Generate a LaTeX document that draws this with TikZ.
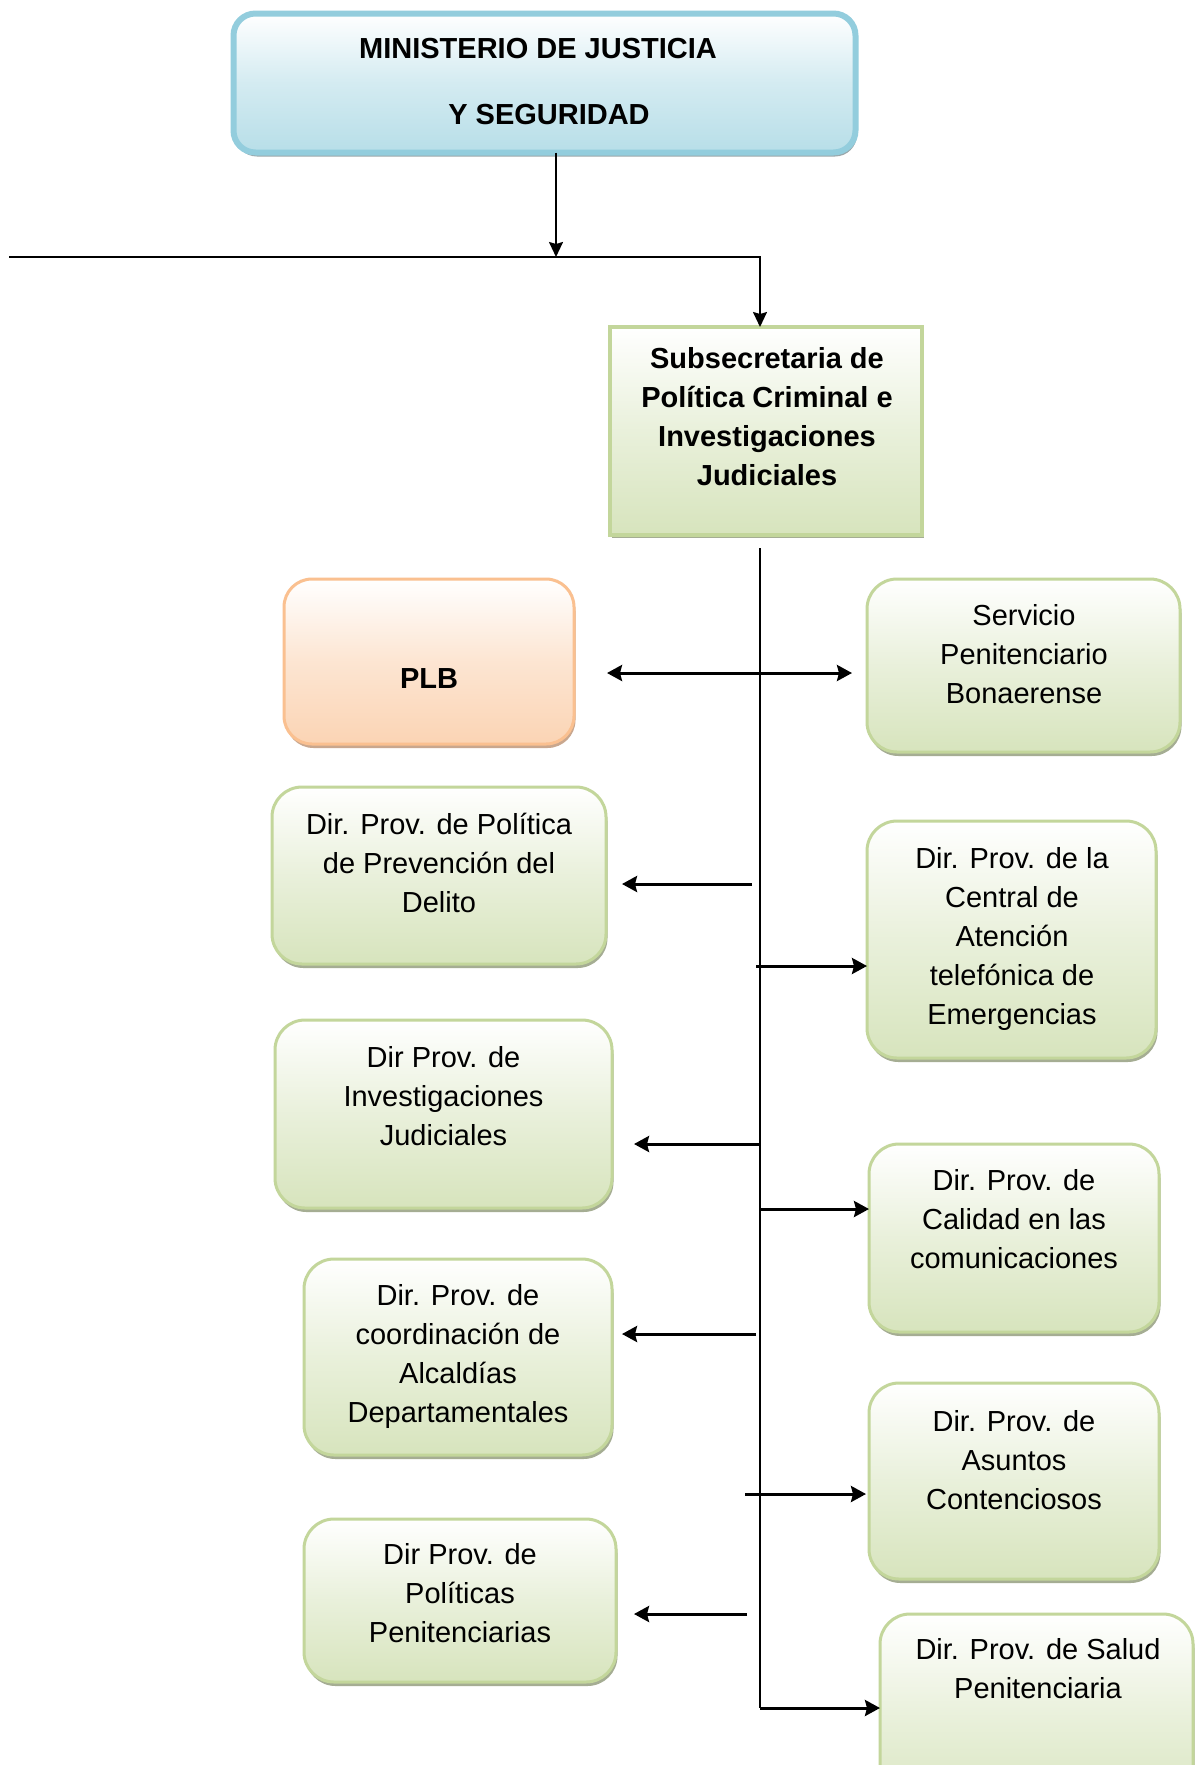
\documentclass[tikz,border=0pt]{standalone}
\usepackage{fontspec}
\setmainfont{Liberation Sans}
\usetikzlibrary{shadows,arrows.meta}
\definecolor{gborder}{HTML}{C3D69B}
\definecolor{gfill}{HTML}{D7E4BD}
\definecolor{gshadow}{HTML}{A5AD93}
\definecolor{bborder}{HTML}{93CDDD}
\definecolor{bfill}{HTML}{B7DEE8}
\definecolor{bshadow}{HTML}{9AA6A9}
\definecolor{oborder}{HTML}{FAC090}
\definecolor{ofill}{HTML}{FBD4B4}
\definecolor{oshadow}{HTML}{C9A78E}
\begin{document}
\begin{tikzpicture}[x=1pt,y=-1pt,
  box/.style={rectangle, inner sep=0pt, outer sep=0pt},
  gbox/.style={box, rounded corners=30pt, draw=gborder, line width=3pt,
    top color=white, bottom color=gfill, middle color=gfill!55!white,
    drop shadow={shadow xshift=1.5pt, shadow yshift=-4pt, fill=gshadow, opacity=1}},
  subbox/.style={box, draw=gborder, line width=4.5pt,
    top color=white, bottom color=gfill, middle color=gfill!55!white,
    drop shadow={shadow xshift=2pt, shadow yshift=-3pt, fill=gshadow, opacity=1}},
  minbox/.style={box, rounded corners=22pt, draw=bborder, line width=6pt,
    top color=white, bottom color=bfill, middle color=bfill!60!white,
    drop shadow={shadow xshift=1.5pt, shadow yshift=-4pt, fill=bshadow, opacity=1}},
  plbbox/.style={box, rounded corners=28pt, draw=oborder, line width=3pt,
    top color=white, bottom color=ofill, middle color=ofill!60!white,
    drop shadow={shadow xshift=1.5pt, shadow yshift=-4pt, fill=oshadow, opacity=1}},
  txt/.style={align=center, inner sep=0pt, font=\fontsize{29}{39}\selectfont},
  btxt/.style={txt, font=\fontsize{29}{39}\selectfont\bfseries},
  trunk/.style={line width=2pt},
  tarr/.style={line width=1.8pt, -{Stealth[length=15pt,width=14pt,inset=2pt]}},
  arr/.style={line width=3pt, -{Stealth[length=15pt,width=16pt,inset=2pt]}},
  darr/.style={line width=3pt, {Stealth[length=15pt,width=16pt,inset=2pt]}-{Stealth[length=15pt,width=16pt,inset=2pt]}}
]
\clip (0,0) rectangle (1200,1765);
\fill[white] (0,0) rectangle (1200,1765);

% boxes
\node[minbox, minimum width=622pt, minimum height=139pt] (min) at (544.5,83) {};
\node[subbox, minimum width=312pt, minimum height=208pt] (sub) at (766,431) {};
\node[plbbox, minimum width=290pt, minimum height=165pt] (plb) at (429,661.5) {};
\node[gbox, minimum width=313pt, minimum height=173pt] (spb) at (1023.5,665.5) {};
\node[gbox, minimum width=334pt, minimum height=177pt] (prev) at (439,875.5) {};
\node[gbox, minimum width=289pt, minimum height=237pt] (cen) at (1011.5,939.5) {};
\node[gbox, minimum width=337pt, minimum height=188pt] (inv) at (443.5,1114) {};
\node[gbox, minimum width=290pt, minimum height=188pt] (cal) at (1014,1238) {};
\node[gbox, minimum width=308pt, minimum height=196pt] (alc) at (458,1357) {};
\node[gbox, minimum width=290pt, minimum height=196pt] (asu) at (1014,1481) {};
\node[gbox, minimum width=312pt, minimum height=163pt] (pol) at (460,1600.5) {};
\node[gbox, minimum width=313pt, minimum height=206pt] (sal) at (1036.5,1717) {};

% texts
\node[btxt] (tmin1) at (538,49) {MINISTERIO DE JUSTICIA};
\node[btxt] (tmin2) at (549,115) {Y SEGURIDAD};
\node[btxt] (tsub) at (767,417) {Subsecretaria de\\Política Criminal e\\Investigaciones\\Judiciales};
\node[btxt] (tplb) at (429,679) {PLB};
\node[txt] (tspb) at (1024,654) {Servicio\\Penitenciario\\Bonaerense};
\node[txt] (tprev) at (439,863) {Dir. Prov. de Política\\de Prevención del\\Delito};
\node[txt] (tcen) at (1012,939) {Dir. Prov. de la\\Central de\\Atención\\telefónica de\\Emergencias};
\node[txt] (tinv) at (443.5,1096) {Dir Prov. de\\Investigaciones\\Judiciales};
\node[txt] (tcal) at (1014,1219) {Dir. Prov. de\\Calidad en las\\comunicaciones};
\node[txt] (talc) at (458,1356) {Dir. Prov. de\\coordinación de\\Alcaldías\\Departamentales};
\node[txt] (tasu) at (1014,1460) {Dir. Prov. de\\Asuntos\\Contenciosos};
\node[txt] (tpol) at (460,1593) {Dir Prov. de\\Políticas\\Penitenciarias};
\node[txt] (tsal) at (1038,1669) {Dir. Prov. de Salud\\Penitenciaria};

% top connectors
\coordinate (jn) at (556,257);
\coordinate (hl) at (9,257);
\draw[tarr] ([xshift=11.5pt]min.south) -- (jn);
\draw[tarr] (hl) -| ([xshift=-6pt]sub.north);

% trunk
\coordinate (tt) at (760,548);
\coordinate (tb) at (760,1708);
\draw[trunk] (tt) -- (tb);
\draw[arr] (tb) -- (tb -| sal.west);

% double arrow
\coordinate (d1) at (760,673);
\draw[darr, shorten <=33pt, shorten >=15pt] (d1 -| plb.east) -- (d1 -| spb.west);

% left arrows
\coordinate (a1) at (752,884);
\draw[arr, shorten >=16pt] (a1) -- (a1 -| prev.east);
\coordinate (a2) at (760,1144);
\draw[arr, shorten >=22pt] (a2) -- (a2 -| inv.east);
\coordinate (a3) at (756,1334);
\draw[arr, shorten >=10pt] (a3) -- (a3 -| alc.east);
\coordinate (a4) at (747,1614);
\draw[arr, shorten >=18pt] (a4) -- (a4 -| pol.east);

% right arrows
\coordinate (b1) at (756,966);
\draw[arr] (b1) -- (b1 -| cen.west);
\coordinate (b2) at (760,1209);
\draw[arr] (b2) -- (b2 -| cal.west);
\coordinate (b3) at (745,1494);
\draw[arr, shorten >=3pt] (b3) -- (b3 -| asu.west);
\end{tikzpicture}
\end{document}
